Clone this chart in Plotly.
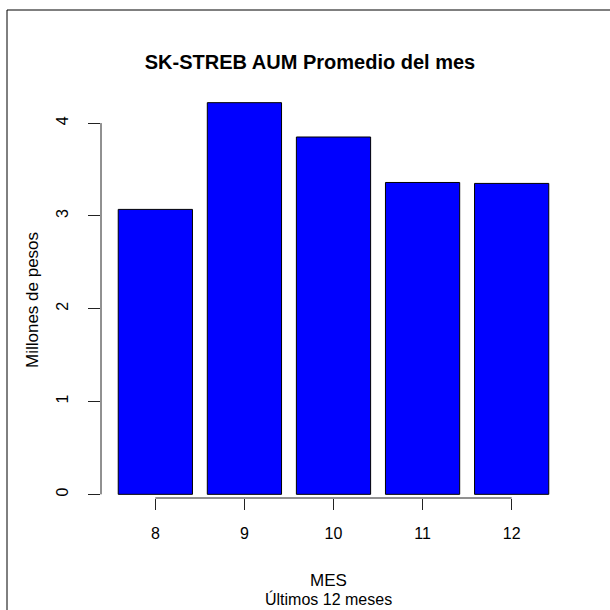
import plotly.graph_objects as go

# Monthly average AUM (millions of pesos)
meses = ["8", "9", "10", "11", "12"]
aum_millones = [3.07, 4.22, 3.85, 3.36, 3.35]
y_ticks = [0, 1, 2, 3, 4]

# barplot-style layout: unit-width bars separated by 0.2 gaps
space = 0.2
centers = [space + 0.5 + i * (1 + space) for i in range(len(meses))]
x_lo, x_hi = space, centers[-1] + 0.5
pad_x = 0.04 * (x_hi - x_lo)
y_top = max(aum_millones)
pad_y = 0.04 * y_top

W, H = 610, 610
L, R, T, B = 101, 44, 87, 100
pw, ph = W - L - R, H - T - B
FONT = "Liberation Sans, Arial, sans-serif"


def px_x(p):
    return (p - L) / pw


def px_y(p):
    return (H - B - p) / ph


fig = go.Figure()
fig.add_trace(go.Bar(
    x=centers, y=aum_millones, width=1.0,
    marker=dict(color="#0000FF", line=dict(color="#000000", width=1)),
    hoverinfo="x+y",
))

axis_pos = px_y(498)
fig.update_layout(
    width=W, height=H,
    margin=dict(l=L, r=R, t=T, b=B),
    paper_bgcolor="white", plot_bgcolor="white",
    showlegend=False,
    font=dict(family=FONT, color="#000000", size=16),
    title=dict(text="<b>SK-STREB AUM Promedio del mes</b>",
               x=px_x(310), xref="paper", xanchor="center",
               y=1 - 62 / H, yanchor="middle",
               font=dict(size=20)),
    xaxis=dict(range=[x_lo - pad_x, x_hi + pad_x], tickvals=centers, ticktext=meses,
               showgrid=False, zeroline=False, showline=False,
               ticks="outside", ticklen=11, tickcolor="#222", tickwidth=1,
               anchor="free", position=axis_pos,
               ticklabelstandoff=10),
    yaxis=dict(range=[-pad_y, y_top + pad_y], tickvals=y_ticks,
               showgrid=False, zeroline=False, showline=False,
               ticks="outside", ticklen=12, tickcolor="#222", tickwidth=1,
               tickangle=-90, ticklabelstandoff=14),
)

# axis titles and subtitle
fig.add_annotation(text="MES", xref="paper", yref="paper", x=px_x(328), y=px_y(580),
                   xanchor="center", yanchor="middle", showarrow=False,
                   font=dict(size=17))
fig.add_annotation(text="Últimos 12 meses", xref="paper", yref="paper",
                   x=px_x(328), y=px_y(599), xanchor="center", yanchor="middle",
                   showarrow=False, font=dict(size=16))
fig.add_annotation(text="Millones de pesos", xref="paper", yref="paper",
                   x=px_x(32), y=px_y(300), xanchor="center", yanchor="middle",
                   textangle=-90, showarrow=False, font=dict(size=17))

# axis lines spanning only the tick range
fig.add_shape(type="line", xref="paper", yref="y", x0=0, x1=0,
              y0=y_ticks[0], y1=y_ticks[-1], line=dict(color="#222", width=1))
fig.add_shape(type="line", xref="x", yref="paper", x0=centers[0], x1=centers[-1],
              y0=axis_pos, y1=axis_pos, line=dict(color="#222", width=1))

# outer frame
fig.add_shape(type="rect", xref="paper", yref="paper",
              x0=px_x(7), x1=px_x(W + 5), y0=px_y(10), y1=px_y(H + 5),
              line=dict(color="#000000", width=1), fillcolor="rgba(0,0,0,0)",
              layer="below")

fig.write_html("out.html")
